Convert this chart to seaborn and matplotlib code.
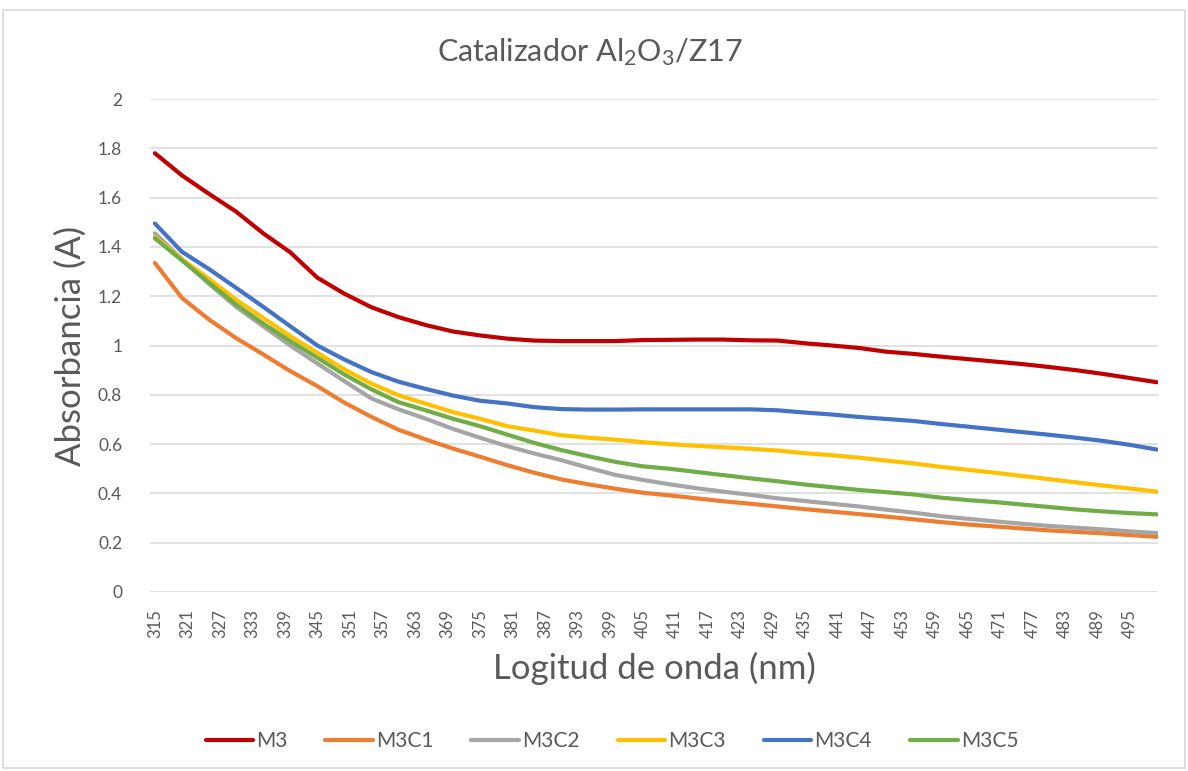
import matplotlib
matplotlib.use("Agg")
import matplotlib.pyplot as plt
import seaborn as sns
import pandas as pd
from matplotlib.patches import Rectangle

# ---------------- data ----------------
wavelength = [315, 320, 325, 330, 335, 340, 345, 350, 355, 360, 365, 370, 375, 380, 385,
              390, 395, 400, 405, 410, 415, 420, 425, 430, 435, 440, 445, 450, 455, 460,
              465, 470, 475, 480, 485, 490, 495, 500]

M3 = [1.780, 1.690, 1.615, 1.543, 1.455, 1.378, 1.275, 1.210, 1.155, 1.115, 1.083, 1.057, 1.041,
      1.028, 1.020, 1.018, 1.018, 1.018, 1.022, 1.023, 1.024, 1.024, 1.021, 1.020, 1.009, 1.000,
      0.990, 0.975, 0.966, 0.955, 0.945, 0.935, 0.925, 0.913, 0.900, 0.885, 0.868, 0.851]
M3C1 = [1.335, 1.193, 1.105, 1.030, 0.964, 0.896, 0.835, 0.768, 0.710, 0.658, 0.619, 0.582, 0.549,
        0.515, 0.484, 0.457, 0.437, 0.419, 0.403, 0.392, 0.380, 0.368, 0.358, 0.347, 0.336, 0.326,
        0.316, 0.306, 0.295, 0.284, 0.274, 0.266, 0.258, 0.250, 0.244, 0.238, 0.231, 0.224]
M3C2 = [1.455, 1.350, 1.250, 1.157, 1.078, 1.000, 0.927, 0.855, 0.785, 0.741, 0.703, 0.662, 0.626,
        0.592, 0.562, 0.535, 0.504, 0.475, 0.455, 0.437, 0.421, 0.407, 0.394, 0.380, 0.369, 0.358,
        0.347, 0.334, 0.322, 0.308, 0.297, 0.287, 0.277, 0.268, 0.261, 0.254, 0.246, 0.239]
M3C3 = [1.440, 1.350, 1.270, 1.186, 1.112, 1.038, 0.970, 0.903, 0.845, 0.798, 0.764, 0.730, 0.703,
        0.673, 0.655, 0.636, 0.626, 0.618, 0.608, 0.600, 0.593, 0.587, 0.581, 0.574, 0.563, 0.555,
        0.545, 0.533, 0.522, 0.508, 0.496, 0.484, 0.471, 0.458, 0.445, 0.432, 0.420, 0.407]
M3C4 = [1.495, 1.380, 1.310, 1.234, 1.157, 1.078, 1.000, 0.943, 0.892, 0.853, 0.824, 0.797, 0.776,
        0.765, 0.750, 0.742, 0.740, 0.740, 0.741, 0.741, 0.741, 0.741, 0.741, 0.737, 0.728, 0.720,
        0.710, 0.702, 0.694, 0.682, 0.671, 0.660, 0.649, 0.638, 0.626, 0.613, 0.597, 0.578]
M3C5 = [1.435, 1.345, 1.255, 1.166, 1.089, 1.018, 0.950, 0.882, 0.822, 0.770, 0.737, 0.703, 0.673,
        0.639, 0.605, 0.576, 0.551, 0.528, 0.510, 0.500, 0.487, 0.474, 0.461, 0.449, 0.436, 0.425,
        0.414, 0.405, 0.396, 0.383, 0.373, 0.365, 0.355, 0.345, 0.335, 0.327, 0.320, 0.315]

series_names = ["M3", "M3C1", "M3C2", "M3C3", "M3C4", "M3C5"]
series_values = [M3, M3C1, M3C2, M3C3, M3C4, M3C5]
colors = ["#C00000", "#ED7D31", "#A5A5A5", "#FFC000", "#4472C4", "#70AD47"]
xtick_labels = list(range(315, 496, 6))
ytick_values = [0, 0.2, 0.4, 0.6, 0.8, 1.0, 1.2, 1.4, 1.6, 1.8, 2.0]
ytick_labels = ["0", "0.2", "0.4", "0.6", "0.8", "1", "1.2", "1.4", "1.6", "1.8", "2"]

# ---------------- table ----------------
rows = []
for name, vals in zip(series_names, series_values):
    for w, v in zip(wavelength, vals):
        rows.append({"wl": w, "A": v, "serie": name})
df = pd.DataFrame(rows)

# ---------------- style ----------------
sns.set_theme(style="white")
plt.rcParams["font.family"] = ["Lato", "DejaVu Sans"]
plt.rcParams["mathtext.fontset"] = "custom"
plt.rcParams["mathtext.rm"] = "Lato"
plt.rcParams["mathtext.it"] = "Lato"
TXT = "#595959"

fig = plt.figure(figsize=(11.88, 7.71), dpi=100)
ax = fig.add_axes([150 / 1188, 1 - 592 / 771, (1158 - 150) / 1188, (592 - 99) / 771])

sns.lineplot(data=df, x="wl", y="A", hue="serie", hue_order=series_names,
             palette=colors, linewidth=3.0, ax=ax, legend=True, estimator=None)

ax.set_xlim(314.1, 500.2)
ax.set_ylim(0, 2)
ax.set_yticks(ytick_values)
ax.set_yticklabels(ytick_labels)
ax.set_xticks(xtick_labels)
ax.set_xticklabels([str(t) for t in xtick_labels], rotation=90)
ax.tick_params(axis="y", length=0, labelsize=12.5, labelcolor=TXT, pad=20)
ax.tick_params(axis="x", length=0, labelsize=12, labelcolor=TXT, pad=12)
ax.grid(axis="y", color="#D9D9D9", linewidth=1.1)
ax.grid(axis="x", visible=False)
for s in ax.spines.values():
    s.set_visible(False)
ax.set_axisbelow(True)

ax.set_xlabel("Logitud de onda (nm)", fontsize=25, color=TXT, labelpad=10)
ax.set_ylabel("Absorbancia (A)", fontsize=25, color=TXT, labelpad=8)
fig.text(0.497, 1 - 52 / 771, "Catalizador Al$_\\mathregular{2}$O$_\\mathregular{3}$/Z17",
         ha="center", va="center", fontsize=22, color=TXT)

handles, labels = ax.get_legend_handles_labels()
ax.get_legend().remove()
leg = fig.legend(handles, labels, loc="center", bbox_to_anchor=(0.515, 1 - 741 / 771),
                 ncol=6, frameon=False, fontsize=15, handlelength=2.3, handletextpad=0.15,
                 columnspacing=1.8)
for t in leg.get_texts():
    t.set_color(TXT)
for h in leg.get_lines():
    h.set_linewidth(3.0)

fig.patches.append(Rectangle((3 / 1188, 3 / 771), 1182 / 1188, (761 - 3) / 771,
                             transform=fig.transFigure, fill=False,
                             edgecolor="#D9D9D9", linewidth=1.2))

fig.savefig("out.png", dpi=100, facecolor="white")
